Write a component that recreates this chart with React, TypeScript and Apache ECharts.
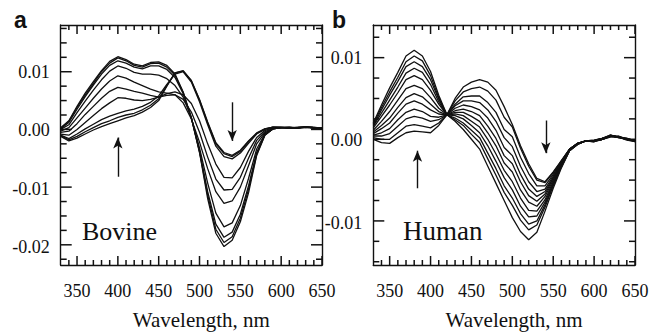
import { useEffect, useRef } from "react";
import * as echarts from "echarts";

// Wavelength grid (nm)
const wavelengths = [330, 340, 350, 360, 370, 380, 390, 400, 410, 420, 430, 440, 450, 460, 470, 480, 490, 500, 510, 520, 530, 540, 550, 560, 570, 580, 590, 600, 610, 620, 630, 640, 650];

// Panel a (Bovine), difference absorbance in units of 1e-3
const bovine0 = [-1.2, -2.0, -1.5, -0.8, -0.1, 0.5, 1.0, 1.5, 2.0, 2.4, 3.0, 3.8, 5.0, 7.5, 9.8, 10.2, 8.5, 5.2, 1.3, -2.3, -4.0, -4.5, -3.6, -2.0, -0.6, 0.1, 0.4, 0.4, 0.3, 0.3, 0.5, 0.3, 0.2];
const bovine1 = [-1.1, -1.8, -1.2, -0.4, 0.3, 1.0, 1.5, 2.1, 2.5, 2.8, 3.4, 4.2, 5.3, 7.6, 9.8, 10.1, 8.4, 5.1, 1.1, -2.5, -4.2, -4.7, -3.8, -2.1, -0.7, 0.1, 0.4, 0.3, 0.4, 0.2, 0.4, 0.3, 0.3];
const bovine2 = [-1.0, -1.6, -0.8, 0.1, 0.9, 1.7, 2.3, 2.8, 3.2, 3.5, 4.0, 4.7, 5.8, 7.8, 9.6, 10.0, 8.2, 4.8, 0.8, -2.9, -4.7, -5.1, -4.1, -2.4, -0.8, 0.0, 0.4, 0.4, 0.2, 0.3, 0.4, 0.2, 0.3];
const bovine3 = [-0.8, -1.0, 0.0, 1.2, 2.4, 3.6, 4.6, 5.5, 5.4, 5.1, 5.0, 5.2, 5.6, 6.2, 6.5, 6.0, 4.5, 1.5, -2.5, -6.0, -8.3, -8.4, -6.6, -3.8, -1.4, -0.2, 0.3, 0.3, 0.2, 0.4, 0.3, 0.3, 0.2];
const bovine4 = [-0.5, -0.3, 1.0, 2.6, 4.0, 5.4, 6.6, 7.3, 7.0, 6.6, 6.3, 5.9, 5.6, 5.9, 6.0, 5.2, 3.0, -0.5, -4.8, -8.6, -10.5, -10.4, -8.3, -5.0, -1.9, -0.4, 0.2, 0.3, 0.3, 0.2, 0.4, 0.3, 0.2];
const bovine5 = [-0.3, 0.3, 2.0, 3.7, 5.4, 7.0, 8.4, 9.3, 8.9, 8.2, 7.6, 7.0, 6.5, 6.3, 6.0, 4.6, 1.8, -2.2, -6.8, -10.8, -12.8, -12.4, -10.0, -6.3, -2.5, -0.6, 0.2, 0.3, 0.4, 0.3, 0.3, 0.4, 0.2];
const bovine6 = [0.0, 0.8, 2.9, 4.9, 6.8, 8.6, 10.1, 11.0, 10.6, 9.9, 9.6, 9.6, 9.4, 8.8, 7.6, 5.6, 2.0, -3.2, -9.3, -14.5, -16.9, -16.2, -13.2, -8.5, -3.4, -0.8, 0.1, 0.3, 0.3, 0.3, 0.4, 0.3, 0.3];
const bovine7 = [0.1, 1.2, 3.5, 5.7, 7.7, 9.6, 11.1, 11.9, 11.5, 10.8, 10.5, 11.0, 11.0, 10.4, 9.0, 6.2, 2.0, -3.7, -10.8, -16.4, -18.7, -17.8, -14.7, -9.8, -4.0, -0.9, 0.1, 0.3, 0.2, 0.3, 0.4, 0.3, 0.2];
const bovine8 = [0.2, 1.4, 3.8, 6.0, 8.0, 10.0, 11.5, 12.4, 11.9, 11.1, 10.8, 11.4, 11.5, 10.8, 9.4, 6.4, 2.0, -3.9, -11.4, -17.3, -19.6, -18.6, -15.4, -10.4, -4.3, -1.0, 0.1, 0.3, 0.3, 0.3, 0.4, 0.3, 0.3];
const bovine9 = [0.3, 1.5, 4.0, 6.3, 8.3, 10.2, 11.8, 12.6, 12.1, 11.3, 11.0, 11.6, 11.7, 11.1, 9.6, 6.5, 2.0, -4.0, -12.0, -18.0, -20.3, -19.2, -16.0, -11.0, -4.5, -1.0, 0.1, 0.3, 0.3, 0.3, 0.4, 0.3, 0.3];
const bovineCurves = [bovine0, bovine1, bovine2, bovine3, bovine4, bovine5, bovine6, bovine7, bovine8, bovine9];

// Panel b (Human), units of 1e-3
const human0 = [0.0, -0.4, -0.5, 0.2, 0.8, 1.0, 0.9, 0.8, 1.7, 3.0, 5.0, 6.4, 7.0, 7.3, 7.0, 6.0, 4.0, 1.8, -0.8, -3.0, -4.8, -5.2, -4.0, -2.6, -1.2, -0.5, -0.2, -0.2, 0.0, 0.4, 0.3, 0.0, -0.2];
const human1 = [0.2, 0.0, 0.0, 0.8, 1.6, 1.8, 1.6, 1.4, 2.0, 3.0, 4.7, 5.8, 6.2, 6.4, 5.9, 4.8, 2.7, 1.5, -1.1, -3.3, -5.0, -5.3, -4.1, -2.6, -1.2, -0.5, -0.2, -0.1, 0.1, 0.5, 0.2, 0.1, -0.2];
const human2 = [0.4, 0.4, 0.7, 1.6, 2.5, 2.8, 2.6, 2.2, 2.4, 3.0, 4.3, 5.2, 5.3, 5.3, 4.5, 3.3, 1.2, 0.3, -2.2, -4.2, -5.7, -5.7, -4.3, -2.7, -1.2, -0.5, -0.2, -0.3, 0.0, 0.3, 0.4, 0.0, -0.1];
const human3 = [0.5, 0.8, 1.3, 2.4, 3.3, 3.7, 3.4, 2.8, 2.7, 3.0, 4.1, 4.7, 4.7, 4.5, 3.6, 2.2, 0.2, -0.9, -3.3, -5.2, -6.4, -6.1, -4.5, -2.8, -1.2, -0.5, -0.2, -0.2, 0.1, 0.4, 0.3, -0.1, -0.3];
const human4 = [0.7, 1.3, 2.0, 3.2, 4.3, 4.7, 4.3, 3.6, 3.1, 3.0, 3.8, 4.2, 4.0, 3.6, 2.6, 1.1, -1.0, -2.0, -4.3, -6.1, -7.0, -6.4, -4.7, -2.9, -1.3, -0.5, -0.2, -0.2, 0.0, 0.5, 0.3, 0.0, -0.2];
const human5 = [0.9, 1.7, 2.6, 3.9, 5.1, 5.6, 5.2, 4.3, 3.4, 3.0, 3.5, 3.7, 3.4, 2.9, 1.6, 0.1, -2.0, -3.0, -5.2, -6.9, -7.6, -6.7, -4.8, -3.0, -1.3, -0.5, -0.2, -0.1, 0.1, 0.4, 0.2, 0.0, -0.2];
const human6 = [1.1, 2.2, 3.4, 4.8, 6.2, 6.6, 6.2, 5.1, 3.8, 3.0, 3.3, 3.3, 2.8, 2.2, 0.8, -0.8, -2.9, -4.0, -6.2, -7.7, -8.2, -7.0, -5.0, -3.1, -1.3, -0.5, -0.2, -0.2, 0.0, 0.3, 0.3, 0.1, -0.2];
const human7 = [1.4, 2.8, 4.2, 5.7, 7.3, 7.8, 7.3, 6.0, 4.3, 3.0, 3.1, 2.9, 2.2, 1.5, 0.0, -1.8, -3.8, -5.2, -7.2, -8.7, -8.8, -7.4, -5.2, -3.2, -1.3, -0.6, -0.2, -0.2, 0.1, 0.5, 0.3, 0.0, -0.2];
const human8 = [1.6, 3.2, 4.8, 6.4, 8.1, 8.7, 8.2, 6.7, 4.6, 3.0, 2.9, 2.5, 1.7, 0.8, -0.8, -2.7, -4.7, -6.2, -8.2, -9.5, -9.4, -7.7, -5.4, -3.2, -1.3, -0.6, -0.2, -0.3, 0.0, 0.4, 0.3, 0.0, -0.3];
const human9 = [1.7, 3.6, 5.4, 7.1, 8.9, 9.5, 8.9, 7.3, 4.9, 3.0, 2.6, 2.0, 1.1, 0.2, -1.7, -3.6, -5.7, -7.2, -9.1, -10.4, -10.0, -8.0, -5.6, -3.3, -1.4, -0.6, -0.2, -0.2, 0.1, 0.4, 0.2, 0.0, -0.2];
const human10 = [1.9, 3.9, 5.8, 7.6, 9.5, 10.2, 9.6, 7.8, 5.1, 3.0, 2.4, 1.7, 0.6, -0.4, -2.4, -4.4, -6.5, -8.1, -9.9, -11.1, -10.5, -8.3, -5.7, -3.4, -1.4, -0.6, -0.2, -0.2, 0.0, 0.4, 0.3, 0.1, -0.2];
const human11 = [2.0, 4.2, 6.3, 8.2, 10.2, 10.9, 10.2, 8.3, 5.4, 3.0, 2.2, 1.2, 0.0, -1.2, -3.3, -5.4, -7.5, -9.6, -11.3, -12.3, -11.4, -8.8, -6.0, -3.5, -1.4, -0.6, -0.2, -0.2, 0.0, 0.4, 0.3, 0.0, -0.2];
const humanCurves = [human0, human1, human2, human3, human4, human5, human6, human7, human8, human9, human10, human11];

// Axis ranges (units of 1e-3)
const xRange = [330, 650];
const bovineRange = [-23.5, 18.1];
const humanRange = [-15.4, 14.0];
const bovineLabelRange = [-20, 10];
const humanLabelRange = [-10, 10];
const yLabelStep = 10;
const xLabelStep = 50;

// Tick positions
const xMajorTicks = [350, 400, 450, 500, 550, 600, 650];
const xMinorTicks = [340, 360, 370, 380, 390, 410, 420, 430, 440, 460, 470, 480, 490, 510, 520, 530, 540, 560, 570, 580, 590, 610, 620, 630, 640];
const bovineMajorTicks = [-20, -10, 0, 10];
const bovineMinorTicks = [-22.5, -17.5, -15, -12.5, -7.5, -5, -2.5, 2.5, 5, 7.5, 12.5, 15, 17.5];
const humanMajorTicks = [-10, 0, 10];
const humanMinorTicks = [-15, -12.5, -7.5, -5, -2.5, 2.5, 5, 7.5, 12.5];

// Arrows [wavelength, from, to]
const bovineArrows = [[400, -8.2, -1.4], [540, 4.7, -2.0]];
const humanArrows = [[384, -6.0, -1.4], [541, 2.3, -1.7]];

const SERIF = "Liberation Serif";
const SANS = "Liberation Sans";
const INK = "#111111";

const PLOT_TOP = 25;
const PLOT_H = 242.3;
const PANELS = [
  { left: 60.7, width: 261.3 },
  { left: 373.3, width: 261.7 },
];
const X_MAJOR_LEN = 9, X_MINOR_LEN = 5, Y_MAJOR_LEN = 11, Y_MINOR_LEN = 6, TICK_W = 1.5;

const frameLine = { show: true, onZero: false, lineStyle: { color: INK, width: 1.4 } };

function buildPanel(pi: number, range: number[], labelR: number[], gBase: number) {
  const p = PANELS[pi];
  const k = PLOT_H / (range[1] - range[0]);
  const grids = [
    { left: p.left, width: p.width, top: PLOT_TOP, height: PLOT_H, show: false },
    { left: p.left, width: p.width, top: PLOT_TOP + (range[1] - labelR[1]) * k, height: (labelR[1] - labelR[0]) * k, show: false },
  ];
  const off = { show: false };
  const xAxes: any[] = [
    { type: "value", gridIndex: gBase, min: xRange[0], max: xRange[1], position: "bottom", axisLine: frameLine, axisTick: off, axisLabel: off, splitLine: off },
    { type: "value", gridIndex: gBase, min: xRange[0], max: xRange[1], position: "top", axisLine: frameLine, axisTick: off, axisLabel: off, splitLine: off },
    {
      type: "category", gridIndex: gBase, data: wavelengths, boundaryGap: false, position: "bottom",
      axisLine: { show: false, onZero: false }, axisTick: off, splitLine: off,
      axisLabel: { show: true, interval: (_i: number, v: any) => Number(v) % xLabelStep === 0, margin: 17, fontFamily: SERIF, fontSize: 18, color: INK },
      name: "Wavelength, nm", nameLocation: "middle", nameGap: 44,
      nameTextStyle: { fontFamily: SERIF, fontSize: 21, color: INK, padding: [0, 0, 0, 20] },
    },
    { type: "value", gridIndex: gBase + 1, show: false, min: 0, max: 1 },
  ];
  const yAxes: any[] = [
    { type: "value", gridIndex: gBase, min: range[0], max: range[1], position: "left", axisLine: frameLine, axisTick: off, axisLabel: off, splitLine: off },
    { type: "value", gridIndex: gBase, min: range[0], max: range[1], position: "right", axisLine: frameLine, axisTick: off, axisLabel: off, splitLine: off },
    {
      type: "value", gridIndex: gBase + 1, min: labelR[0], max: labelR[1], interval: yLabelStep, position: "left",
      axisLine: { show: false, onZero: false }, axisTick: off, splitLine: off,
      axisLabel: { show: true, margin: 11, fontFamily: SERIF, fontSize: 18, color: INK, formatter: (v: number) => (v / 1000).toFixed(2) },
    },
  ];
  return { grids, xAxes, yAxes };
}

// tick marks as thin rect symbols placed on the frame through the axes' scales
function tickScatter(xIndex: number, yIndex: number, range: number[], yMajor: number[], yMinor: number[]) {
  const mk = (data: number[][], size: number[], offset: number[]) => ({
    type: "scatter",
    xAxisIndex: xIndex,
    yAxisIndex: yIndex,
    data,
    symbol: "rect",
    symbolSize: size,
    symbolOffset: offset,
    itemStyle: { color: INK, opacity: 1 },
    silent: true,
    clip: false,
    z: 6,
  });
  return [
    mk(xMinorTicks.map((v) => [v, range[0]]), [TICK_W, X_MINOR_LEN], [0, -X_MINOR_LEN / 2]),
    mk(xMajorTicks.map((v) => [v, range[0]]), [TICK_W, X_MAJOR_LEN], [0, -X_MAJOR_LEN / 2]),
    mk(xMinorTicks.map((v) => [v, range[1]]), [TICK_W, X_MINOR_LEN], [0, X_MINOR_LEN / 2]),
    mk(xMajorTicks.map((v) => [v, range[1]]), [TICK_W, X_MAJOR_LEN], [0, X_MAJOR_LEN / 2]),
    mk(yMinor.map((v) => [xRange[0], v]), [Y_MINOR_LEN, TICK_W], [Y_MINOR_LEN / 2, 0]),
    mk(yMajor.map((v) => [xRange[0], v]), [Y_MAJOR_LEN, TICK_W], [Y_MAJOR_LEN / 2, 0]),
    mk(yMinor.map((v) => [xRange[1], v]), [Y_MINOR_LEN, TICK_W], [-Y_MINOR_LEN / 2, 0]),
    mk(yMajor.map((v) => [xRange[1], v]), [Y_MAJOR_LEN, TICK_W], [-Y_MAJOR_LEN / 2, 0]),
  ];
}

function makeSeries(curves: number[][], xIndex: number, yIndex: number, arrows: number[][]) {
  return curves.map((c, i) => {
    const s: any = {
      type: "line",
      xAxisIndex: xIndex,
      yAxisIndex: yIndex,
      data: wavelengths.map((w, j) => [w, c[j]]),
      symbol: "none",
      showSymbol: false,
      silent: true,
      z: 5,
      lineStyle: { color: INK, width: 1.3 },
    };
    if (i === 0) {
      s.markLine = {
        silent: true,
        symbol: ["none", "arrow"],
        symbolSize: [7, 11],
        label: { show: false },
        lineStyle: { color: INK, width: 1.4, type: "solid" },
        emphasis: { disabled: true },
        data: arrows.map((a) => [{ coord: [a[0], a[1]] }, { coord: [a[0], a[2]] }]),
      };
    }
    return s;
  });
}

export default function App() {
  const ref = useRef<HTMLDivElement>(null);
  useEffect(() => {
    if (!ref.current) return;
    const chart = echarts.init(ref.current, null, { renderer: "svg" });
    const pa = buildPanel(0, bovineRange, bovineLabelRange, 0);
    const pb = buildPanel(1, humanRange, humanLabelRange, 2);
    const option: any = {
      animation: false,
      backgroundColor: "#ffffff",
      textStyle: { fontFamily: SERIF },
      grid: [...pa.grids, ...pb.grids],
      xAxis: [...pa.xAxes, ...pb.xAxes],
      yAxis: [...pa.yAxes, ...pb.yAxes],
      series: [
        ...makeSeries(bovineCurves, 0, 0, bovineArrows),
        ...tickScatter(0, 0, bovineRange, bovineMajorTicks, bovineMinorTicks),
        ...makeSeries(humanCurves, 4, 3, humanArrows),
        ...tickScatter(4, 3, humanRange, humanMajorTicks, humanMinorTicks),
      ],
      graphic: [
        { type: "text", x: 14, y: 20, style: { text: "a", font: `bold 23px ${SANS}`, fill: INK, verticalAlign: "middle", align: "left" } },
        { type: "text", x: 332, y: 20, style: { text: "b", font: `bold 23px ${SANS}`, fill: INK, verticalAlign: "middle", align: "left" } },
        { type: "text", x: 82, y: 231, style: { text: "Bovine", font: `26px ${SERIF}`, fill: INK, verticalAlign: "middle", align: "left" } },
        { type: "text", x: 403, y: 231, style: { text: "Human", font: `27px ${SERIF}`, fill: INK, verticalAlign: "middle", align: "left" } },
      ],
    };
    chart.setOption(option);
    return () => chart.dispose();
  }, []);
  return <div ref={ref} style={{ position: "fixed", left: 0, top: 0, width: 661, height: 335 }} />;
}
